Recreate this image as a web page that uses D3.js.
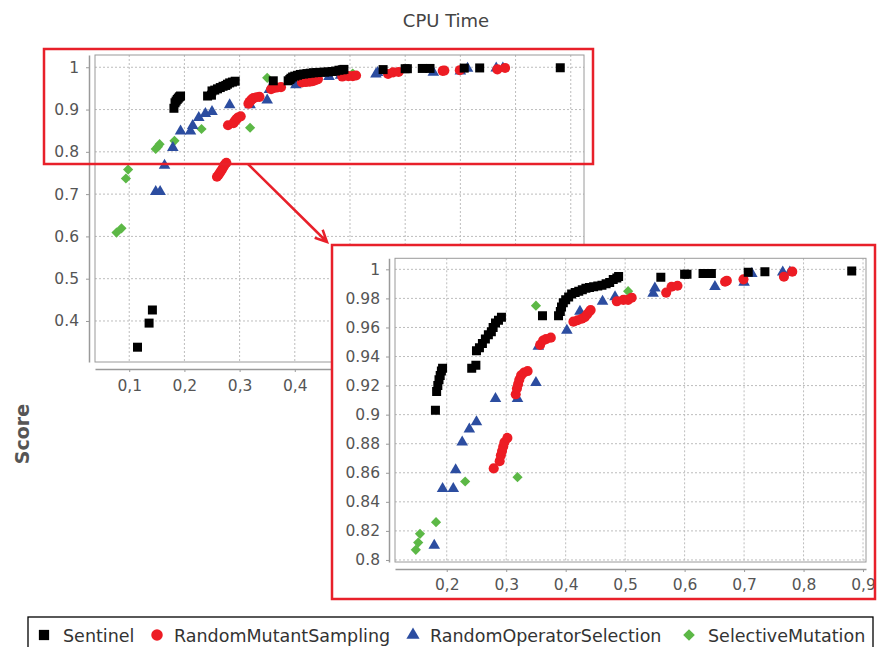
<!DOCTYPE html>
<html>
<head>
<meta charset="utf-8">
<script src="https://cdn.jsdelivr.net/npm/d3@7"></script>
<style>
  body { margin: 0; background: #fff; }
  svg { display: block; font-family: "DejaVu Sans", Verdana, sans-serif; }
</style>
</head>
<body>
<div id="chart"></div>
<script>
// series names in legend order
const seriesNames = ['Sentinel', 'RandomMutantSampling', 'RandomOperatorSelection', 'SelectiveMutation'];

// [cpu time, score] pairs
const sentinel = [
    [0.115, 0.338], [0.136, 0.395], [0.142, 0.426],
    [0.181, 0.903], [0.183, 0.916], [0.185, 0.920], [0.187, 0.924], [0.189, 0.927], [0.191, 0.930], [0.193, 0.932],
    [0.242, 0.932], [0.249, 0.934], [0.250, 0.944], [0.255, 0.946], [0.260, 0.949], [0.265, 0.952], [0.270, 0.955],
    [0.275, 0.957], [0.278, 0.960], [0.282, 0.963], [0.287, 0.965], [0.292, 0.967],
    [0.361, 0.968], [0.388, 0.968], [0.391, 0.971], [0.393, 0.974], [0.396, 0.977], [0.400, 0.979], [0.405, 0.981],
    [0.410, 0.983], [0.416, 0.984], [0.422, 0.985], [0.428, 0.986], [0.434, 0.987], [0.440, 0.9875], [0.447, 0.988],
    [0.454, 0.9885], [0.461, 0.989], [0.468, 0.990], [0.474, 0.991], [0.480, 0.993], [0.486, 0.994], [0.489, 0.995],
    [0.560, 0.9945], [0.600, 0.9966], [0.604, 0.9966], [0.631, 0.9972], [0.645, 0.9972], [0.707, 0.998],
    [0.735, 0.9984], [0.881, 0.9988]
];
const randomMutantSampling = [
    [0.259, 0.741], [0.262, 0.746], [0.265, 0.752], [0.268, 0.758], [0.271, 0.765], [0.273, 0.770], [0.276, 0.774],
    [0.279, 0.863], [0.289, 0.868], [0.291, 0.872], [0.293, 0.875], [0.295, 0.878], [0.297, 0.881], [0.302, 0.884],
    [0.316, 0.914], [0.318, 0.918], [0.320, 0.921], [0.322, 0.924], [0.325, 0.927], [0.330, 0.929], [0.336, 0.930],
    [0.357, 0.948], [0.362, 0.951], [0.367, 0.952], [0.375, 0.953],
    [0.413, 0.964], [0.420, 0.965], [0.427, 0.966], [0.432, 0.967], [0.436, 0.969], [0.440, 0.971], [0.442, 0.972],
    [0.486, 0.978], [0.497, 0.979], [0.505, 0.979], [0.511, 0.9805],
    [0.569, 0.984], [0.578, 0.988], [0.588, 0.9887],
    [0.668, 0.9915], [0.671, 0.9922], [0.699, 0.9931],
    [0.767, 0.9949], [0.781, 0.9984]
];
const randomOperatorSelection = [
    [0.148, 0.706], [0.156, 0.706], [0.164, 0.768],
    [0.179, 0.810], [0.193, 0.849], [0.211, 0.849], [0.215, 0.862], [0.226, 0.881], [0.238, 0.890], [0.250, 0.895],
    [0.282, 0.911], [0.319, 0.911], [0.350, 0.922], [0.354, 0.947], [0.402, 0.958], [0.424, 0.971], [0.462, 0.978],
    [0.483, 0.981], [0.547, 0.9835], [0.550, 0.987], [0.651, 0.988], [0.700, 0.991], [0.713, 0.997],
    [0.765, 0.998], [0.777, 0.998]
];
const selectiveMutation = [
    [0.077, 0.609], [0.086, 0.619], [0.094, 0.737], [0.098, 0.758],
    [0.148, 0.807], [0.152, 0.812], [0.155, 0.818], [0.182, 0.826], [0.231, 0.854], [0.319, 0.857],
    [0.350, 0.975], [0.505, 0.985]
];

// tick values
const mainXTicks = [0.1, 0.2, 0.3, 0.4, 0.5, 0.6, 0.7, 0.8, 0.9];
const mainXLabelled = [0.1, 0.2, 0.3, 0.4]; // the rest sit under the zoom box
const mainYTicks = [0.4, 0.5, 0.6, 0.7, 0.8, 0.9, 1];
const zoomXTicks = [0.2, 0.3, 0.4, 0.5, 0.6, 0.7, 0.8, 0.9];
const zoomYTicks = [0.8, 0.82, 0.84, 0.86, 0.88, 0.9, 0.92, 0.94, 0.96, 0.98, 1];

const seriesData = [sentinel, randomMutantSampling, randomOperatorSelection, selectiveMutation];
const colors = ['#000000', '#ed1c24', '#2c4da0', '#5cb846'];
const shapes = [d3.symbolSquare, d3.symbolCircle, d3.symbolTriangle, d3.symbolSquare];
const sizes = [81, 80, 58, 52];
const rotations = [0, 0, 0, 45];

const width = 877;
const height = 647;
const frameRed = '#e8202a';

const svg = d3.select('#chart')
    .append('svg')
    .attr('width', width)
    .attr('height', height);

svg.append('text')
    .attr('x', 446)
    .attr('y', 27)
    .attr('text-anchor', 'middle')
    .attr('font-size', 18)
    .attr('fill', '#444')
    .text('CPU Time');

svg.append('text')
    .attr('transform', 'translate(29,434) rotate(-90)')
    .attr('text-anchor', 'middle')
    .attr('font-size', 19)
    .attr('font-weight', 'bold')
    .attr('fill', '#555')
    .text('Score');

const fmtY = d => d3.format('~g')(d);
const fmtX = d => d3.format('.1f')(d).replace('.', ',');

function drawPlot(opts) {
    const g = svg.append('g');
    const x = d3.scaleLinear().domain(opts.xDomain).range([opts.left, opts.right]);
    const y = d3.scaleLinear().domain(opts.yDomain).range([opts.bottom, opts.top]);

    if (opts.background) {
        g.append('rect')
            .attr('x', opts.bg[0])
            .attr('y', opts.bg[1])
            .attr('width', opts.bg[2])
            .attr('height', opts.bg[3])
            .attr('fill', '#fff');
    }

    // grid
    g.selectAll('.vgrid')
        .data(opts.xTicks)
        .enter()
        .append('line')
        .attr('x1', d => x(d))
        .attr('x2', d => x(d))
        .attr('y1', opts.top)
        .attr('y2', opts.bottom)
        .attr('stroke', '#bdbdbd')
        .attr('stroke-dasharray', '2,2');

    g.selectAll('.hgrid')
        .data(opts.yTicks)
        .enter()
        .append('line')
        .attr('x1', opts.left)
        .attr('x2', opts.right)
        .attr('y1', d => y(d))
        .attr('y2', d => y(d))
        .attr('stroke', '#bdbdbd')
        .attr('stroke-dasharray', '2,2');

    // points, last series underneath
    const clipId = opts.id + '-clip';
    svg.append('clipPath')
        .attr('id', clipId)
        .append('rect')
        .attr('x', opts.left)
        .attr('y', opts.top)
        .attr('width', opts.right - opts.left)
        .attr('height', opts.bottom - opts.top);

    const pts = g.append('g').attr('clip-path', `url(#${clipId})`);
    for (let s = seriesData.length - 1; s >= 0; s--) {
        const sym = d3.symbol().type(shapes[s]).size(sizes[s]);
        pts.selectAll('.s' + s)
            .data(seriesData[s])
            .enter()
            .append('path')
            .attr('d', sym)
            .attr('transform', d => `translate(${x(d[0])},${y(d[1])}) rotate(${rotations[s]})`)
            .attr('fill', colors[s]);
    }

    // plot border
    g.append('rect')
        .attr('x', opts.left)
        .attr('y', opts.top)
        .attr('width', opts.right - opts.left)
        .attr('height', opts.bottom - opts.top)
        .attr('fill', 'none')
        .attr('stroke', '#9a9a9a');

    // axes, offset from the plot
    const yAxis = d3.axisLeft(y)
        .tickValues(opts.yTicks)
        .tickFormat(fmtY)
        .tickSize(3)
        .tickSizeOuter(0)
        .tickPadding(opts.yPad);
    const yg = g.append('g')
        .attr('transform', `translate(${opts.left - 6},0)`)
        .call(yAxis);

    const labelled = opts.xLabelled || opts.xTicks;
    const xAxis = d3.axisBottom(x)
        .tickValues(opts.xTicks)
        .tickFormat(d => labelled.includes(d) ? fmtX(d) : '')
        .tickSize(3)
        .tickSizeOuter(0)
        .tickPadding(opts.xPad);
    const xg = g.append('g')
        .attr('transform', `translate(0,${opts.bottom + 7})`)
        .call(xAxis);

    [yg, xg].forEach(a => {
        a.select('.domain').attr('stroke', '#9a9a9a').attr('stroke-width', 1.5);
        a.selectAll('.tick line').attr('stroke', '#9a9a9a');
        a.selectAll('.tick text')
            .attr('font-size', 15.5)
            .attr('font-family', '"DejaVu Sans", Verdana, sans-serif')
            .attr('fill', '#555');
    });
}

drawPlot({
    id: 'main',
    left: 95, right: 584, top: 55, bottom: 362,
    xDomain: [0.038, 0.924], yDomain: [0.303, 1.029],
    xTicks: mainXTicks, xLabelled: mainXLabelled, yTicks: mainYTicks,
    xPad: 8, yPad: 7
});

// highlight box on the main chart
svg.append('rect')
    .attr('x', 44)
    .attr('y', 49)
    .attr('width', 549)
    .attr('height', 115)
    .attr('fill', 'none')
    .attr('stroke', frameRed)
    .attr('stroke-width', 2.5);

// arrow to the zoomed view
const a0 = [248, 164];
const a1 = [327, 242];
const ang = Math.atan2(a1[1] - a0[1], a1[0] - a0[0]);
const head = 13;
const spread = 0.45;
const p1 = [a1[0] - head * Math.cos(ang - spread), a1[1] - head * Math.sin(ang - spread)];
const p2 = [a1[0] - head * Math.cos(ang + spread), a1[1] - head * Math.sin(ang + spread)];
svg.append('path')
    .attr('d', `M${a0}L${a1}M${p1}L${a1}L${p2}`)
    .attr('fill', 'none')
    .attr('stroke', frameRed)
    .attr('stroke-width', 2.5);

drawPlot({
    id: 'zoom',
    background: true,
    bg: [332, 245, 544, 354],
    left: 395, right: 866, top: 258.3, bottom: 562,
    xDomain: [0.113, 0.905], yDomain: [0.7986, 1.0076],
    xTicks: zoomXTicks, yTicks: zoomYTicks,
    xPad: 7, yPad: 6
});

svg.append('rect')
    .attr('x', 332)
    .attr('y', 245)
    .attr('width', 543)
    .attr('height', 354)
    .attr('fill', 'none')
    .attr('stroke', frameRed)
    .attr('stroke-width', 2.5);

// legend
const legend = svg.append('g');
legend.append('rect')
    .attr('x', 28)
    .attr('y', 617)
    .attr('width', 845)
    .attr('height', 45)
    .attr('fill', '#fff')
    .attr('stroke', '#000')
    .attr('stroke-width', 1.3);

const legendMarkX = [44, 157, 413, 689];
const legendTextX = [63, 174, 430, 708];
seriesNames.forEach((name, i) => {
    const sym = d3.symbol().type(shapes[i]).size(sizes[i] * 1.3);
    legend.append('path')
        .attr('d', sym)
        .attr('transform', `translate(${legendMarkX[i]},635) rotate(${rotations[i]})`)
        .attr('fill', colors[i]);
    legend.append('text')
        .attr('x', legendTextX[i])
        .attr('y', 642)
        .attr('font-size', 17.5)
        .attr('fill', '#333')
        .text(name);
});
</script>
</body>
</html>
